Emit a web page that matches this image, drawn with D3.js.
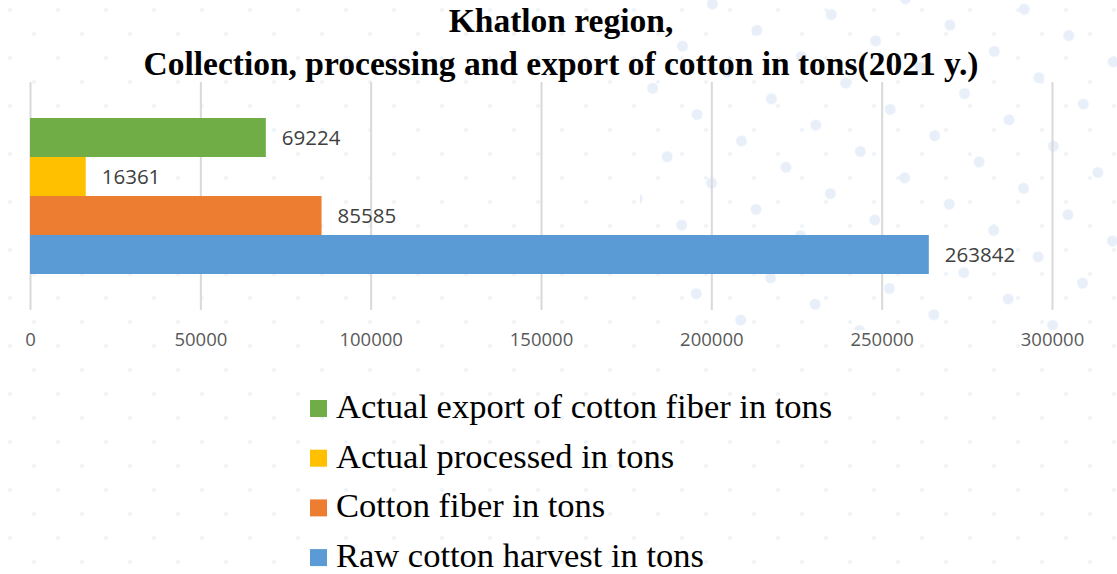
<!DOCTYPE html>
<html>
<head>
<meta charset="utf-8">
<script src="https://cdn.jsdelivr.net/npm/d3@7"></script>
<style>
  body { margin: 0; background: #fff; }
  .title { font-family: 'Liberation Serif', 'DejaVu Serif', serif; font-weight: bold; fill: #000; }
  .tick text { font-family: 'Open Sans', 'Noto Sans', sans-serif; fill: #595959; }
  .value { font-family: 'Open Sans', 'Noto Sans', sans-serif; fill: #404040; }
  .legend text { font-family: 'Liberation Serif', 'DejaVu Serif', serif; fill: #000; }
</style>
</head>
<body>
<svg id="chart"></svg>
<script>
// chart size
const width = 1117;
const height = 574;

// data, top to bottom
const series = [
  'Actual export of cotton fiber in tons',
  'Actual processed in tons',
  'Cotton fiber in tons',
  'Raw cotton harvest in tons'
];
const values = [69224, 16361, 85585, 263842];
const colors = ['#70ad47', '#ffc000', '#ed7d31', '#5b9bd5'];
const ticks = [0, 50000, 100000, 150000, 200000, 250000, 300000];
const titleLines = ['Khatlon region,', 'Collection, processing and export of cotton in tons(2021 y.)'];

const margin = { top: 82, bottom: 264, left: 30, right: 65 };

const svg = d3.select('#chart')
  .attr('width', width)
  .attr('height', height);

// faint dotted backdrop (decoration only)
const defs = svg.append('defs');
const small = defs.append('pattern')
  .attr('id', 'dots-small')
  .attr('width', 48).attr('height', 48)
  .attr('patternUnits', 'userSpaceOnUse');
small.append('circle').attr('cx', 10).attr('cy', 10).attr('r', 2).attr('fill', '#eef3fa');
small.append('circle').attr('cx', 34).attr('cy', 34).attr('r', 2).attr('fill', '#eef3fa');

const big = defs.append('pattern')
  .attr('id', 'dots-big')
  .attr('width', 76).attr('height', 70)
  .attr('patternUnits', 'userSpaceOnUse')
  .attr('patternTransform', 'rotate(-12)');
big.append('circle').attr('cx', 12).attr('cy', 12).attr('r', 5.5).attr('fill', '#e8eff9');
big.append('circle').attr('cx', 50).attr('cy', 47).attr('r', 5.5).attr('fill', '#e8eff9');

svg.append('rect').attr('width', width).attr('height', height).attr('fill', 'url(#dots-small)');
svg.append('rect').attr('x', 640).attr('width', width - 640).attr('height', 330).attr('fill', 'url(#dots-big)');

// title
svg.selectAll('text.title')
  .data(titleLines)
  .enter()
  .append('text')
  .attr('class', 'title')
  .attr('x', 561)
  .attr('y', (d, i) => 32 + i * 43)
  .attr('text-anchor', 'middle')
  .style('font-size', '33.5px')
  .text(d => d);

const scales = {
  x: d3.scaleLinear().domain([0, 300000]).range([margin.left, width - margin.right]),
  y: d3.scaleBand().domain(series).range([margin.top + 36, height - margin.bottom - 36])
};

// grid lines + tick labels
const xAxis = d3.axisBottom(scales.x)
  .tickValues(ticks)
  .tickFormat(d3.format('d'))
  .tickSizeInner(-(height - margin.top - margin.bottom))
  .tickSizeOuter(0)
  .tickPadding(23);

const xGroup = svg.append('g')
  .attr('id', 'x-axis')
  .attr('transform', translate(0, height - margin.bottom))
  .call(xAxis);

xGroup.select('.domain').remove();
xGroup.selectAll('.tick line').attr('stroke', '#d9d9d9').attr('stroke-width', 2);
xGroup.selectAll('.tick text').style('font-size', '18.5px');

// bars
const plot = svg.append('g').attr('id', 'bars');
plot.selectAll('rect')
  .data(values)
  .enter()
  .append('rect')
  .attr('x', scales.x(0))
  .attr('y', (d, i) => scales.y(series[i]))
  .attr('width', d => scales.x(d) - scales.x(0))
  .attr('height', scales.y.bandwidth())
  .attr('fill', (d, i) => colors[i]);

// value labels
plot.selectAll('text')
  .data(values)
  .enter()
  .append('text')
  .attr('class', 'value')
  .attr('x', d => scales.x(d) + 16)
  .attr('y', (d, i) => scales.y(series[i]) + scales.y.bandwidth() / 2)
  .attr('dy', '0.36em')
  .style('font-size', '20.5px')
  .text(d => d);

// legend
const legend = svg.append('g')
  .attr('class', 'legend')
  .attr('transform', translate(310, 418));

const rows = legend.selectAll('g')
  .data(series)
  .enter()
  .append('g')
  .attr('transform', (d, i) => translate(0, i * 49.7));

rows.append('rect')
  .attr('x', 0)
  .attr('y', -18)
  .attr('width', 17)
  .attr('height', 17)
  .attr('fill', (d, i) => colors[i]);

rows.append('text')
  .attr('x', 26)
  .attr('y', 0)
  .style('font-size', '34.5px')
  .text(d => d);

function translate(x, y) {
  return 'translate(' + String(x) + ',' + String(y) + ')';
}
</script>
</body>
</html>
